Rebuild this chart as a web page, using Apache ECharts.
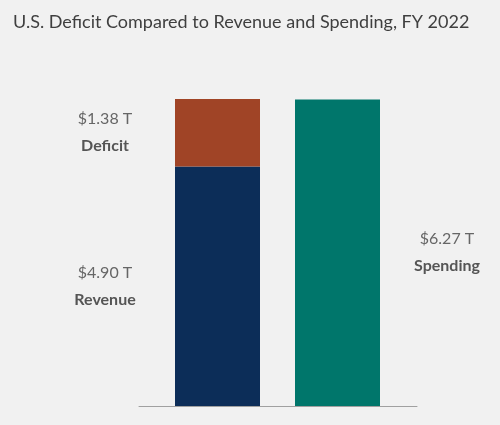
<!DOCTYPE html>
<html>
<head>
<meta charset="utf-8">
<script src="https://cdn.jsdelivr.net/npm/echarts@6/dist/echarts.min.js"></script>
<style>
  html, body { margin: 0; padding: 0; background: #f1f1f1; }
  #chart { width: 500px; height: 425px; }
</style>
</head>
<body>
<div id="chart"></div>
<script>
// data (trillions of dollars, FY 2022)
var slotNames = ['Revenue + Deficit', 'Spending'];
var categories = ['Revenue', 'Deficit', 'Spending'];
var values = [4.90, 1.38, 6.27];
var slots = [0, 0, 1];          // which bar each part belongs to
var colors = ['#0c2d58', '#a04426', '#00766b'];
var labelSide = ['left', 'left', 'right'];

var font = 'Lato, "Source Sans Pro", "Noto Sans", sans-serif';

function makeSeries(i) {
  var data = slotNames.map(function (s, k) { return k === slots[i] ? values[i] : '-'; });
  return {
    name: categories[i],
    type: 'bar',
    stack: 'total',
    barWidth: 85,
    xAxisIndex: 0,
    yAxisIndex: 0,
    data: data,
    itemStyle: { color: colors[i] },
    label: {
      show: true,
      position: labelSide[i],
      distance: labelSide[i] === 'left' ? 70 : 67,
      align: 'center',
      verticalAlign: 'middle',
      formatter: function (p) {
        return '{v|$' + p.value.toFixed(2) + ' T}\n{n|' + p.seriesName + '}';
      },
      rich: {
        v: { fontFamily: font, fontSize: 16, color: '#666', lineHeight: 27 },
        n: { fontFamily: font, fontSize: 16, fontWeight: 'bold', color: '#555', lineHeight: 27 }
      }
    }
  };
}

var chart = echarts.init(document.getElementById('chart'));
var option = {
  backgroundColor: '#f1f1f1',
  animation: false,
  title: {
    text: 'U.S. Deficit Compared to Revenue and Spending, FY 2022',
    left: 8,
    top: 8,
    textStyle: { fontFamily: font, fontSize: 18, fontWeight: 'normal', color: '#3f3f3f' }
  },
  grid: [
    { left: 157.5, right: 102.5, top: 99, bottom: 19 },   // bars
    { left: 139, right: 83, top: 99, bottom: 19 }         // baseline only
  ],
  xAxis: [
    {
      type: 'category',
      gridIndex: 0,
      data: slotNames,
      axisLine: { show: false },
      axisTick: { show: false },
      axisLabel: { show: false }
    },
    {
      type: 'value',
      gridIndex: 1,
      splitLine: { show: false },
      axisTick: { show: false },
      axisLabel: { show: false },
      axisLine: { show: true, lineStyle: { color: '#a0a0a0', width: 1 } }
    }
  ],
  yAxis: [
    { type: 'value', gridIndex: 0, min: 0, max: 6.28, show: false },
    { type: 'value', gridIndex: 1, show: false }
  ],
  series: [makeSeries(0), makeSeries(1), makeSeries(2)]
};
chart.setOption(option);
</script>
</body>
</html>
